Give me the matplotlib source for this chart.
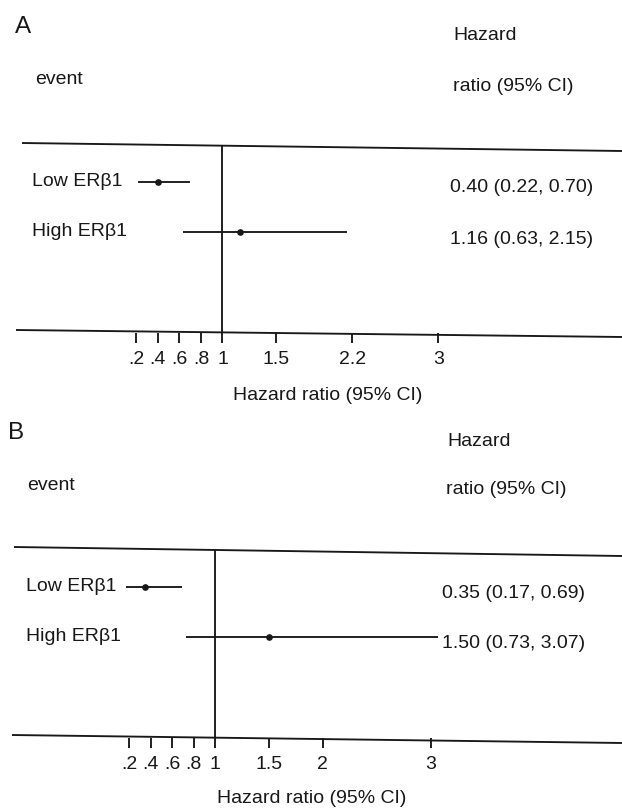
import matplotlib
matplotlib.use("Agg")
import matplotlib.pyplot as plt
from matplotlib.lines import Line2D

plt.rcParams['font.family'] = ['Liberation Sans', 'DejaVu Sans']

# ---------------- data ----------------
groups = ["Low ERβ1", "High ERβ1"]
panel_labels = ["A", "B"]

hr_a = [0.40, 1.16]
lo_a = [0.22, 0.63]
hi_a = [0.70, 2.15]

hr_b = [0.35, 1.50]
lo_b = [0.17, 0.73]
hi_b = [0.69, 3.07]

ticks_a = [0.2, 0.4, 0.6, 0.8, 1, 1.5, 2.2, 3]
ticklabels_a = [".2", ".4", ".6", ".8", "1", "1.5", "2.2", "3"]
ticks_b = [0.2, 0.4, 0.6, 0.8, 1, 1.5, 2, 3]
ticklabels_b = [".2", ".4", ".6", ".8", "1", "1.5", "2", "3"]

col_left = "event"
col_right_1 = "Hazard"
col_right_2 = "ratio (95% CI)"
xlabel = "Hazard ratio (95% CI)"

# ---------------- layout (pixels) ----------------
W, H = 622, 809
INK = "#181818"
FS = 14
LW = 1.35

fig = plt.figure(figsize=(W / 100, H / 100), dpi=100)
fig.patch.set_facecolor("white")


def ftext(x, y, s, size=FS, ha="left", va="baseline"):
    fig.text(x / W, 1 - y / H, s, fontsize=size, ha=ha, va=va, color=INK)


def fline(p0, p1):
    fig.add_artist(Line2D([p0[0] / W, p1[0] / W], [1 - p0[1] / H, 1 - p1[1] / H],
                          transform=fig.transFigure, color=INK, lw=LW,
                          solid_capstyle="butt"))


layouts = [
    dict(letter=(15, 33), hazard=(453, 40.5), event=(35, 83.5), ratio=(453, 91),
         top=((22, 143), (622, 151)), bottom=((16, 330), (622, 337)),
         ax_top=145.5, ax_bot=332.5, rows=(181.7, 231.7), x_one=222.5, ppu=108.0,
         rowlab_x=32, rowlab_base=(186, 236.5), right_x=450, right_base=(191.5, 243.5),
         xlab=(327.5, 400)),
    dict(letter=(8, 439), hazard=(447, 446.5), event=(27, 490), ratio=(446, 494),
         top=((14, 547), (622, 556)), bottom=((12, 735), (622, 743)),
         ax_top=550, ax_bot=737.5, rows=(587.3, 637.3), x_one=215.2, ppu=107.7,
         rowlab_x=25.5, rowlab_base=(591, 641), right_x=442, right_base=(598, 647.5),
         xlab=(311.7, 803)),
]

panels = [
    (hr_a, lo_a, hi_a, ticks_a, ticklabels_a),
    (hr_b, lo_b, hi_b, ticks_b, ticklabels_b),
]

for lab, L, (hr, lo, hi, tks, tkl) in zip(panel_labels, layouts, panels):
    # header texts
    ftext(*L["letter"], lab, size=17.5)
    ftext(*L["hazard"], col_right_1)
    ftext(*L["event"], col_left)
    ftext(*L["ratio"], col_right_2)
    # frame lines
    fline(*L["top"])
    fline(*L["bottom"])

    # axes for the plot region
    t, b = L["ax_top"], L["ax_bot"]
    ax = fig.add_axes([0, 1 - b / H, 1, (b - t) / H])
    ax.patch.set_visible(False)
    for sp in ax.spines.values():
        sp.set_visible(False)
    x_one, ppu = L["x_one"], L["ppu"]
    ax.set_xlim(1 + (0 - x_one) / ppu, 1 + (W - x_one) / ppu)
    r0, r1 = L["rows"]
    ppr = r1 - r0
    ax.set_ylim(1 + (b - r1) / ppr, 0 - (r0 - t) / ppr)

    ys = list(range(len(groups)))
    ax.axvline(1, color=INK, lw=LW)
    ax.hlines(ys, lo, hi, color=INK, lw=LW)
    ax.plot(hr, ys, "o", ms=3.8, color=INK)

    ax.set_yticks([])
    ax.set_xticks(tks, tkl)
    ax.tick_params(axis="x", direction="out", length=7.5, width=LW, pad=6,
                   labelsize=FS, colors=INK)

    # row labels and estimates
    for g, h, l, u, yb, yr in zip(groups, hr, lo, hi, L["rowlab_base"], L["right_base"]):
        ftext(L["rowlab_x"], yb, g)
        ftext(L["right_x"], yr, f"{h:.2f} ({l:.2f}, {u:.2f})")

    ftext(L["xlab"][0], L["xlab"][1], xlabel, ha="center")

fig.savefig("out.png", dpi=100, facecolor="white")
